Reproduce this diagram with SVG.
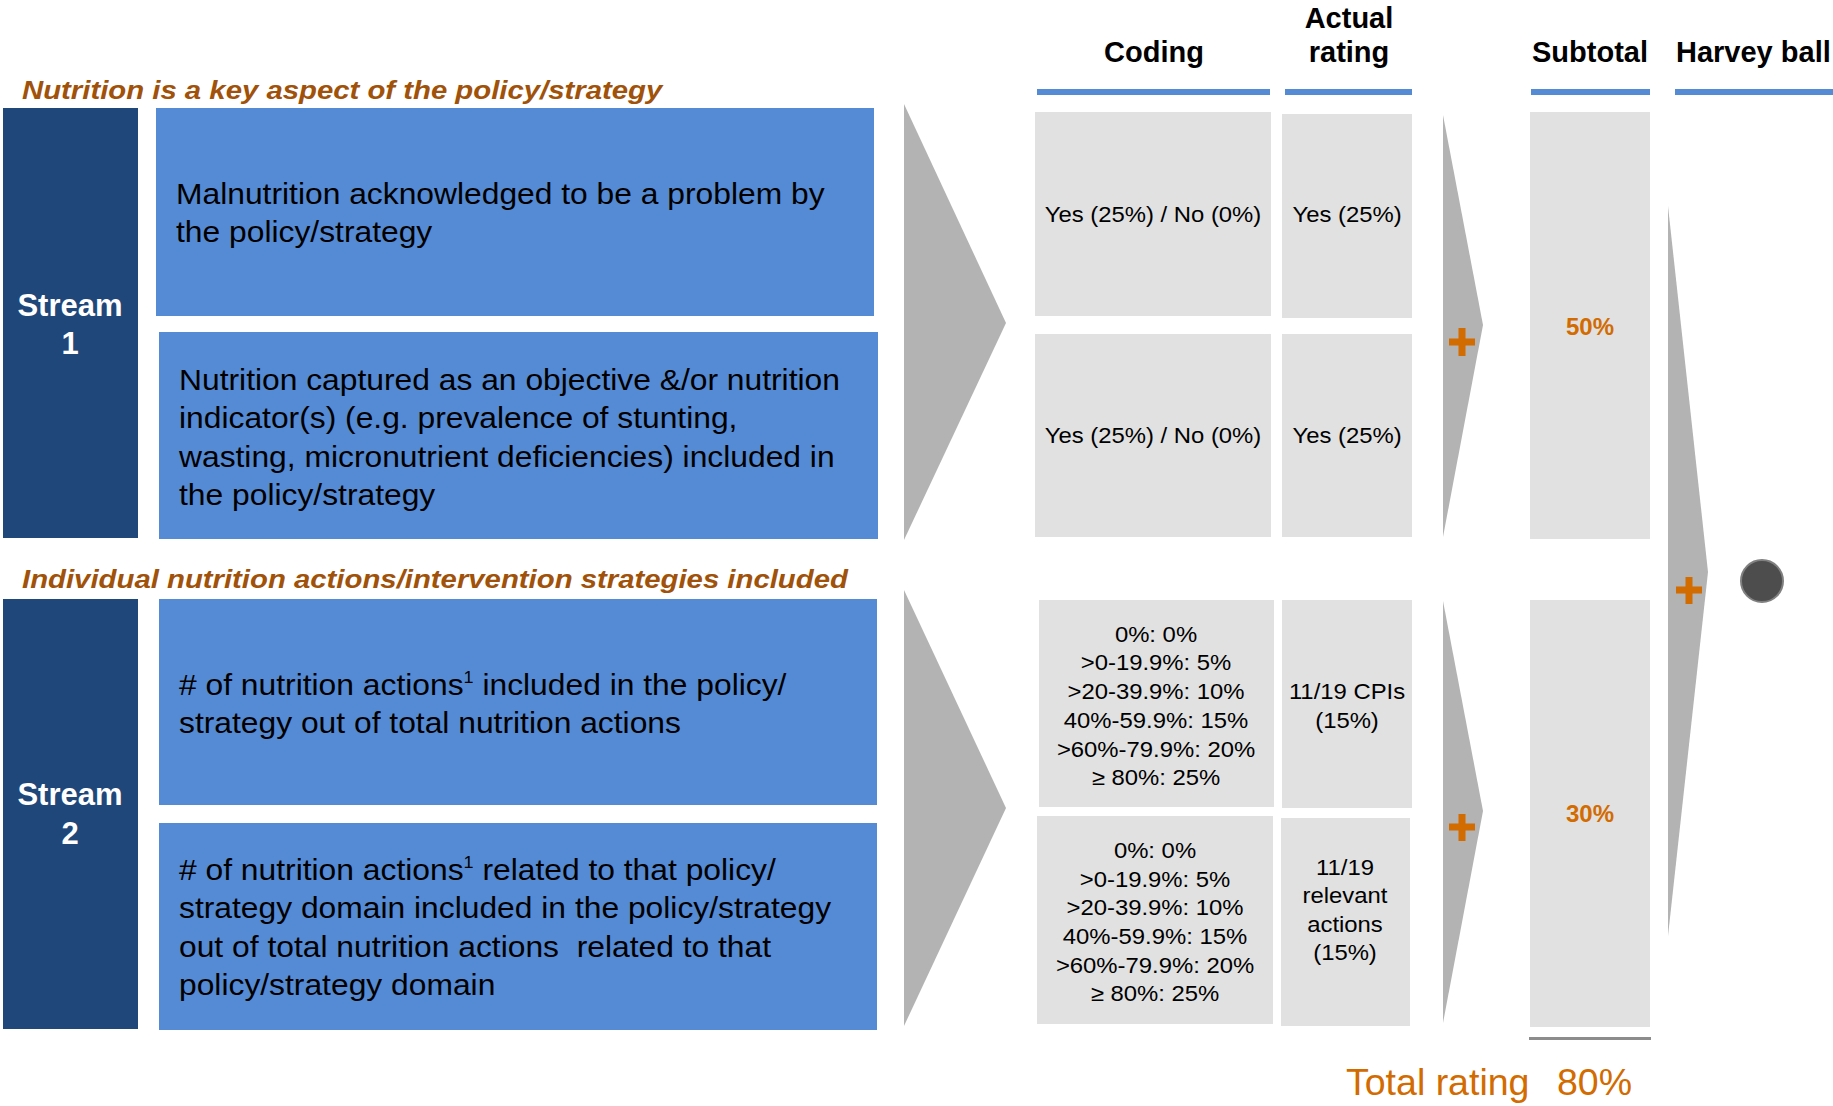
<svg xmlns="http://www.w3.org/2000/svg" width="1833" height="1106" viewBox="0 0 1833 1106">
<style>
.stream{fill:#1F4779}
.blue{fill:#558BD4}
.gray{fill:#E1E1E1}
.arrow{fill:#B3B3B3}
.hline{fill:#558BD4}
.body{font-family:"Liberation Sans",Arial,sans-serif;font-size:30px;fill:#000;white-space:pre}
.cell{font-family:"Liberation Sans",Arial,sans-serif;font-size:22px;fill:#000;text-anchor:middle}
.head{font-family:"Liberation Sans",Arial,sans-serif;font-size:29px;font-weight:bold;fill:#000}
.sec{font-family:"Liberation Sans",Arial,sans-serif;font-size:26.5px;font-weight:bold;font-style:italic;fill:#A0520A}
.slabel{font-family:"Liberation Sans",Arial,sans-serif;font-size:31px;font-weight:bold;fill:#fff;text-anchor:middle}
.pct{font-family:"Liberation Sans",Arial,sans-serif;font-size:24px;font-weight:bold;fill:#D26B00;text-anchor:middle}
.total{font-family:"Liberation Sans",Arial,sans-serif;font-size:37.5px;fill:#D26B00}
.plus{stroke:#D26B00;stroke-width:7;fill:none}
</style>

<!-- column headers -->
<g id="header-coding">
<text class="head" x="1154" y="62" text-anchor="middle">Coding</text>
<rect class="hline" x="1037" y="89" width="233" height="6"/>
</g>
<g id="header-actual">
<text class="head" x="1349" y="28" text-anchor="middle">Actual</text>
<text class="head" x="1349" y="62" text-anchor="middle">rating</text>
<rect class="hline" x="1285" y="89" width="127" height="6"/>
</g>
<g id="header-subtotal">
<text class="head" x="1590" y="62" text-anchor="middle">Subtotal</text>
<rect class="hline" x="1531" y="89" width="119" height="6"/>
</g>
<g id="header-harvey">
<text class="head" x="1676" y="62">Harvey ball</text>
<rect class="hline" x="1675" y="89" width="158" height="6"/>
</g>

<!-- section headings -->
<g id="section1-title" transform="translate(22,99) scale(1.107,1)">
<text class="sec" x="0" y="0">Nutrition is a key aspect of the policy/strategy</text>
</g>
<g id="section2-title" transform="translate(22,588) scale(1.107,1)">
<text class="sec" x="0" y="0">Individual nutrition actions/intervention strategies included</text>
</g>

<!-- stream labels -->
<g id="stream1">
<rect class="stream" x="3" y="108" width="135" height="430"/>
<text class="slabel" x="70" y="316">Stream</text>
<text class="slabel" x="70" y="354">1</text>
</g>
<g id="stream2">
<rect class="stream" x="3" y="599" width="135" height="430"/>
<text class="slabel" x="70" y="805">Stream</text>
<text class="slabel" x="70" y="844">2</text>
</g>

<!-- criteria boxes -->
<g id="criterion1">
<rect class="blue" x="156" y="108" width="718" height="208"/>
<g transform="translate(176,0) scale(1.06,1)">
<text class="body" x="0" y="204">Malnutrition acknowledged to be a problem by</text>
<text class="body" x="0" y="242">the policy/strategy</text>
</g>
</g>
<g id="criterion2">
<rect class="blue" x="159" y="332" width="719" height="207"/>
<g transform="translate(179,0) scale(1.06,1)">
<text class="body" x="0" y="390">Nutrition captured as an objective &amp;/or nutrition</text>
<text class="body" x="0" y="428">indicator(s) (e.g. prevalence of stunting,</text>
<text class="body" x="0" y="467">wasting, micronutrient deficiencies) included in</text>
<text class="body" x="0" y="505">the policy/strategy</text>
</g>
</g>
<g id="criterion3">
<rect class="blue" x="159" y="599" width="718" height="206"/>
<g transform="translate(179,0) scale(1.06,1)">
<text class="body" x="0" y="695"># of nutrition actions<tspan font-size="17" dy="-12">1</tspan><tspan dy="12"> included in the policy/</tspan></text>
<text class="body" x="0" y="733">strategy out of total nutrition actions</text>
</g>
</g>
<g id="criterion4">
<rect class="blue" x="159" y="823" width="718" height="207"/>
<g transform="translate(179,0) scale(1.06,1)">
<text class="body" x="0" y="880"># of nutrition actions<tspan font-size="17" dy="-12">1</tspan><tspan dy="12"> related to that policy/</tspan></text>
<text class="body" x="0" y="918">strategy domain included in the policy/strategy</text>
<text class="body" x="0" y="957">out of total nutrition actions&#160; related to that</text>
<text class="body" x="0" y="995">policy/strategy domain</text>
</g>
</g>

<!-- coding cells -->
<g id="coding1">
<rect class="gray" x="1035" y="112" width="236" height="204"/>
<g transform="translate(1153,0) scale(1.085,1)"><text class="cell" x="0" y="222">Yes (25%) / No (0%)</text></g>
</g>
<g id="coding2">
<rect class="gray" x="1035" y="334" width="236" height="203"/>
<g transform="translate(1153,0) scale(1.085,1)"><text class="cell" x="0" y="443">Yes (25%) / No (0%)</text></g>
</g>
<g id="coding3">
<rect class="gray" x="1039" y="600" width="235" height="207"/>
<g transform="translate(1156,0) scale(1.085,1)">
<text class="cell" x="0" y="642">0%: 0%</text>
<text class="cell" x="0" y="670">&gt;0-19.9%: 5%</text>
<text class="cell" x="0" y="699">&gt;20-39.9%: 10%</text>
<text class="cell" x="0" y="728">40%-59.9%: 15%</text>
<text class="cell" x="0" y="757">&gt;60%-79.9%: 20%</text>
<text class="cell" x="0" y="785">≥ 80%: 25%</text>
</g>
</g>
<g id="coding4">
<rect class="gray" x="1037" y="816" width="236" height="208"/>
<g transform="translate(1155,0) scale(1.085,1)">
<text class="cell" x="0" y="858">0%: 0%</text>
<text class="cell" x="0" y="887">&gt;0-19.9%: 5%</text>
<text class="cell" x="0" y="915">&gt;20-39.9%: 10%</text>
<text class="cell" x="0" y="944">40%-59.9%: 15%</text>
<text class="cell" x="0" y="973">&gt;60%-79.9%: 20%</text>
<text class="cell" x="0" y="1001">≥ 80%: 25%</text>
</g>
</g>

<!-- actual rating cells -->
<g id="rating1">
<rect class="gray" x="1282" y="114" width="130" height="204"/>
<g transform="translate(1347,0) scale(1.085,1)"><text class="cell" x="0" y="222">Yes (25%)</text></g>
</g>
<g id="rating2">
<rect class="gray" x="1282" y="334" width="130" height="203"/>
<g transform="translate(1347,0) scale(1.085,1)"><text class="cell" x="0" y="443">Yes (25%)</text></g>
</g>
<g id="rating3">
<rect class="gray" x="1282" y="600" width="130" height="208"/>
<g transform="translate(1347,0) scale(1.085,1)">
<text class="cell" x="0" y="699">11/19 CPIs</text>
<text class="cell" x="0" y="728">(15%)</text>
</g>
</g>
<g id="rating4">
<rect class="gray" x="1281" y="818" width="129" height="208"/>
<g transform="translate(1345,0) scale(1.085,1)">
<text class="cell" x="0" y="875">11/19</text>
<text class="cell" x="0" y="903">relevant</text>
<text class="cell" x="0" y="932">actions</text>
<text class="cell" x="0" y="960">(15%)</text>
</g>
</g>

<!-- subtotals -->
<g id="subtotal1">
<rect class="gray" x="1530" y="112" width="120" height="427"/>
<text class="pct" x="1590" y="335">50%</text>
</g>
<g id="subtotal2">
<rect class="gray" x="1530" y="600" width="120" height="427"/>
<text class="pct" x="1590" y="822">30%</text>
</g>

<!-- harvey ball -->
<g id="harvey-ball">
<circle cx="1762" cy="581" r="21" fill="#4D4D4D" stroke="#808080" stroke-width="2"/>
</g>

<!-- total -->
<g id="total">
<rect x="1529" y="1037" width="122" height="3" fill="#8C8C8C"/>
<text class="total" x="1346" y="1095">Total rating</text>
<text class="total" x="1557" y="1095">80%</text>
</g>

<!-- connectors: chevrons and plus signs -->
<g id="connectors">
<polygon class="arrow" points="904,104 1006,323 904,540"/>
<polygon class="arrow" points="904,590 1006,808 904,1026"/>
<polygon class="arrow" points="1443,115 1483,325 1443,537"/>
<polygon class="arrow" points="1443,601 1483,811 1443,1023"/>
<polygon class="arrow" points="1668,206 1708,572 1668,936"/>
<path class="plus" d="M1449,342 H1475 M1462,328 V356"/>
<path class="plus" d="M1449,827 H1475 M1462,814 V841"/>
<path class="plus" d="M1676,590 H1702 M1689,577 V604"/>
</g>
</svg>
